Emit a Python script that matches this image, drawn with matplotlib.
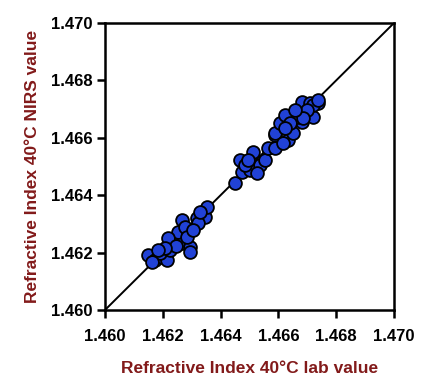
import matplotlib
matplotlib.use("Agg")
import matplotlib.pyplot as plt

lab_values = [
    1.46149, 1.46173, 1.46197, 1.46215, 1.46190, 1.46235, 1.46266, 1.46294,
    1.46294, 1.46253, 1.46266, 1.46287, 1.46318, 1.46346, 1.46353, 1.46322,
    1.46277, 1.46284, 1.46218, 1.46163, 1.46225, 1.46246, 1.46208, 1.46183,
    1.46329, 1.46304,
    1.46450, 1.46474, 1.46467, 1.46512, 1.46502, 1.46536, 1.46554, 1.46564,
    1.46588, 1.46588, 1.46526, 1.46484, 1.46495,
    1.46588, 1.46606, 1.46623, 1.46633, 1.46651, 1.46682, 1.46682, 1.46709,
    1.46737, 1.46668, 1.46699, 1.46640, 1.46616, 1.46720, 1.46720, 1.46737,
    1.46699, 1.46685, 1.46657, 1.46623,
]
nirs_values = [
    1.46192, 1.46174, 1.46185, 1.46174, 1.46199, 1.46233, 1.46233, 1.46220,
    1.46202, 1.46272, 1.46314, 1.46272, 1.46321, 1.46324, 1.46359, 1.46303,
    1.46289, 1.46254, 1.46251, 1.46167, 1.46209, 1.46223, 1.46216, 1.46209,
    1.46341, 1.46279,
    1.46443, 1.46481, 1.46523, 1.46551, 1.46488, 1.46505, 1.46523, 1.46564,
    1.46564, 1.46610, 1.46477, 1.46505, 1.46523,
    1.46617, 1.46652, 1.46679, 1.46592, 1.46617, 1.46655, 1.46725, 1.46721,
    1.46721, 1.46672, 1.46679, 1.46652, 1.46582, 1.46672, 1.46714, 1.46732,
    1.46697, 1.46669, 1.46697, 1.46634,
]
ticks = [1.460, 1.462, 1.464, 1.466, 1.468, 1.470]
tick_labels = ["1.460", "1.462", "1.464", "1.466", "1.468", "1.470"]
xlabel = "Refractive Index 40°C lab value"
ylabel = "Refractive Index 40°C NIRS value"

plt.rcParams['font.family'] = ['Liberation Sans', 'DejaVu Sans']

fig = plt.figure(figsize=(4.24, 3.88), dpi=100)
ax = fig.add_axes([0.2476, 0.201, 0.6816, 0.7397])

ax.plot([1.460, 1.470], [1.460, 1.470], color='black', lw=1.4, zorder=1)
ax.scatter(lab_values, nirs_values, s=85, c='#2142d6', edgecolors='black',
           linewidths=1.3, zorder=2)

ax.set_xlim(1.460, 1.470)
ax.set_ylim(1.460, 1.470)
ax.set_xticks(ticks)
ax.set_xticklabels(tick_labels)
ax.set_yticks(ticks)
ax.set_yticklabels(tick_labels)
for sp in ax.spines.values():
    sp.set_linewidth(1.8)
ax.tick_params(direction='out', length=6, width=1.8, labelsize=12)
ax.tick_params(axis='x', pad=8)
ax.tick_params(axis='y', pad=3)
for lbl in ax.get_xticklabels() + ax.get_yticklabels():
    lbl.set_fontweight('bold')

ax.set_xlabel(xlabel, fontsize=12.5, fontweight='bold', color='#821a1a', labelpad=12)
ax.set_ylabel(ylabel, fontsize=12.5, fontweight='bold', color='#821a1a', labelpad=8)

fig.savefig("out.png", dpi=100)
